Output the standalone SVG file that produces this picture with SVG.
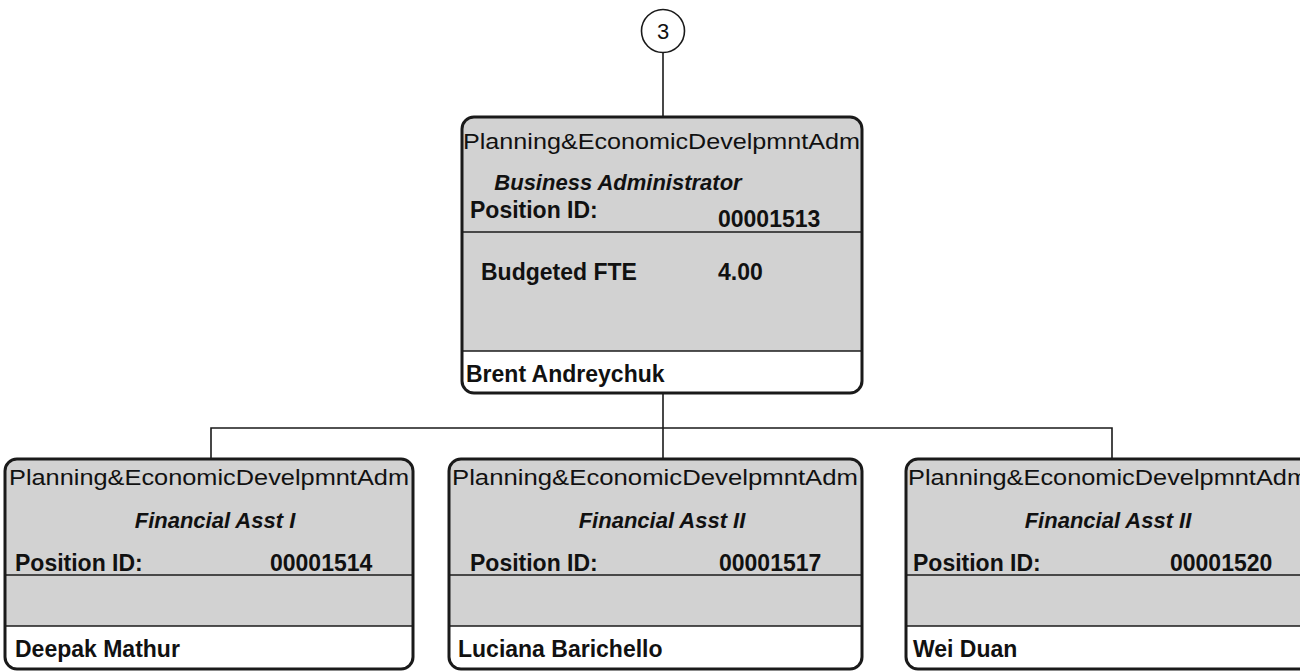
<svg xmlns="http://www.w3.org/2000/svg" width="1300" height="671" viewBox="0 0 1300 671">
  <style>
    .bg { fill: #ffffff; }
    .shade { fill: #d2d2d2; }
    .white { fill: #ffffff; }
    .frame { fill: none; stroke: #1a1a1a; stroke-width: 3; }
    .rule { stroke: #1a1a1a; stroke-width: 1.6; }
    .wire { fill: none; stroke: #1a1a1a; stroke-width: 1.6; }
    .unit { font-family: "Liberation Sans", Arial, sans-serif; font-size: 22px; fill: #111; }
    .title { font-family: "Liberation Sans", Arial, sans-serif; font-size: 22px; font-weight: bold; font-style: italic; fill: #111; text-anchor: middle; }
    .lbl { font-family: "Liberation Sans", Arial, sans-serif; font-size: 23px; font-weight: bold; fill: #111; }
    .num { font-family: "Liberation Sans", Arial, sans-serif; font-size: 23px; font-weight: bold; fill: #111; }
    .name { font-family: "Liberation Sans", Arial, sans-serif; font-size: 23px; font-weight: bold; fill: #111; }
    .ref { font-family: "Liberation Sans", Arial, sans-serif; font-size: 22px; fill: #111; text-anchor: middle; }
  </style>

  <rect class="bg" x="0" y="0" width="1300" height="671"/>

  <!-- connectors -->
  <g id="connectors">
    <line class="wire" x1="663" y1="53" x2="663" y2="117"/>
    <line class="wire" x1="663" y1="393" x2="663" y2="459"/>
    <polyline class="wire" points="211,459 211,428 1112,428 1112,459"/>
  </g>

  <!-- off-page reference -->
  <g id="ref-3">
    <circle cx="663" cy="31" r="21.5" fill="#fff" stroke="#1a1a1a" stroke-width="1.6"/>
    <text class="ref" x="663" y="39">3</text>
  </g>

  <!-- top position -->
  <g id="node-00001513">
    <rect class="shade" x="462" y="117" width="400" height="276" rx="12"/>
    <path class="white" d="M462,351 H862 V381 A12,12 0 0 1 850,393 H474 A12,12 0 0 1 462,381 Z"/>
    <line class="rule" x1="462" y1="232" x2="862" y2="232"/>
    <line class="rule" x1="462" y1="351" x2="862" y2="351"/>
    <rect class="frame" x="462" y="117" width="400" height="276" rx="12"/>
    <text class="unit" x="463" y="149" textLength="397" lengthAdjust="spacingAndGlyphs">Planning&amp;EconomicDevelpmntAdm</text>
    <text class="title" x="618" y="190">Business Administrator</text>
    <text class="lbl" x="470" y="218">Position ID:</text>
    <text class="num" x="718" y="227">00001513</text>
    <text class="lbl" x="481" y="280">Budgeted FTE</text>
    <text class="num" x="718" y="280">4.00</text>
    <text class="name" x="466" y="382">Brent Andreychuk</text>
  </g>

  <!-- left position -->
  <g id="node-00001514">
    <rect class="shade" x="5" y="459" width="408" height="210" rx="12"/>
    <path class="white" d="M5,626 H413 V657 A12,12 0 0 1 401,669 H17 A12,12 0 0 1 5,657 Z"/>
    <line class="rule" x1="5" y1="575" x2="413" y2="575"/>
    <line class="rule" x1="5" y1="626" x2="413" y2="626"/>
    <rect class="frame" x="5" y="459" width="408" height="210" rx="12"/>
    <text class="unit" x="9" y="485" textLength="400" lengthAdjust="spacingAndGlyphs">Planning&amp;EconomicDevelpmntAdm</text>
    <text class="title" x="215" y="528">Financial Asst I</text>
    <text class="lbl" x="15" y="571">Position ID:</text>
    <text class="num" x="270" y="571">00001514</text>
    <text class="name" x="15" y="657">Deepak Mathur</text>
  </g>

  <!-- middle position -->
  <g id="node-00001517">
    <rect class="shade" x="449" y="459" width="413" height="210" rx="12"/>
    <path class="white" d="M449,626 H862 V657 A12,12 0 0 1 850,669 H461 A12,12 0 0 1 449,657 Z"/>
    <line class="rule" x1="449" y1="575" x2="862" y2="575"/>
    <line class="rule" x1="449" y1="626" x2="862" y2="626"/>
    <rect class="frame" x="449" y="459" width="413" height="210" rx="12"/>
    <text class="unit" x="452" y="485" textLength="406" lengthAdjust="spacingAndGlyphs">Planning&amp;EconomicDevelpmntAdm</text>
    <text class="title" x="662" y="528">Financial Asst II</text>
    <text class="lbl" x="470" y="571">Position ID:</text>
    <text class="num" x="719" y="571">00001517</text>
    <text class="name" x="458" y="657">Luciana Barichello</text>
  </g>

  <!-- right position -->
  <g id="node-00001520">
    <rect class="shade" x="906" y="459" width="410" height="210" rx="12"/>
    <path class="white" d="M906,626 H1316 V657 A12,12 0 0 1 1304,669 H918 A12,12 0 0 1 906,657 Z"/>
    <line class="rule" x1="906" y1="575" x2="1316" y2="575"/>
    <line class="rule" x1="906" y1="626" x2="1316" y2="626"/>
    <rect class="frame" x="906" y="459" width="410" height="210" rx="12"/>
    <text class="unit" x="908" y="485" textLength="400" lengthAdjust="spacingAndGlyphs">Planning&amp;EconomicDevelpmntAdm</text>
    <text class="title" x="1108" y="528">Financial Asst II</text>
    <text class="lbl" x="913" y="571">Position ID:</text>
    <text class="num" x="1170" y="571">00001520</text>
    <text class="name" x="913" y="657">Wei Duan</text>
  </g>
</svg>
